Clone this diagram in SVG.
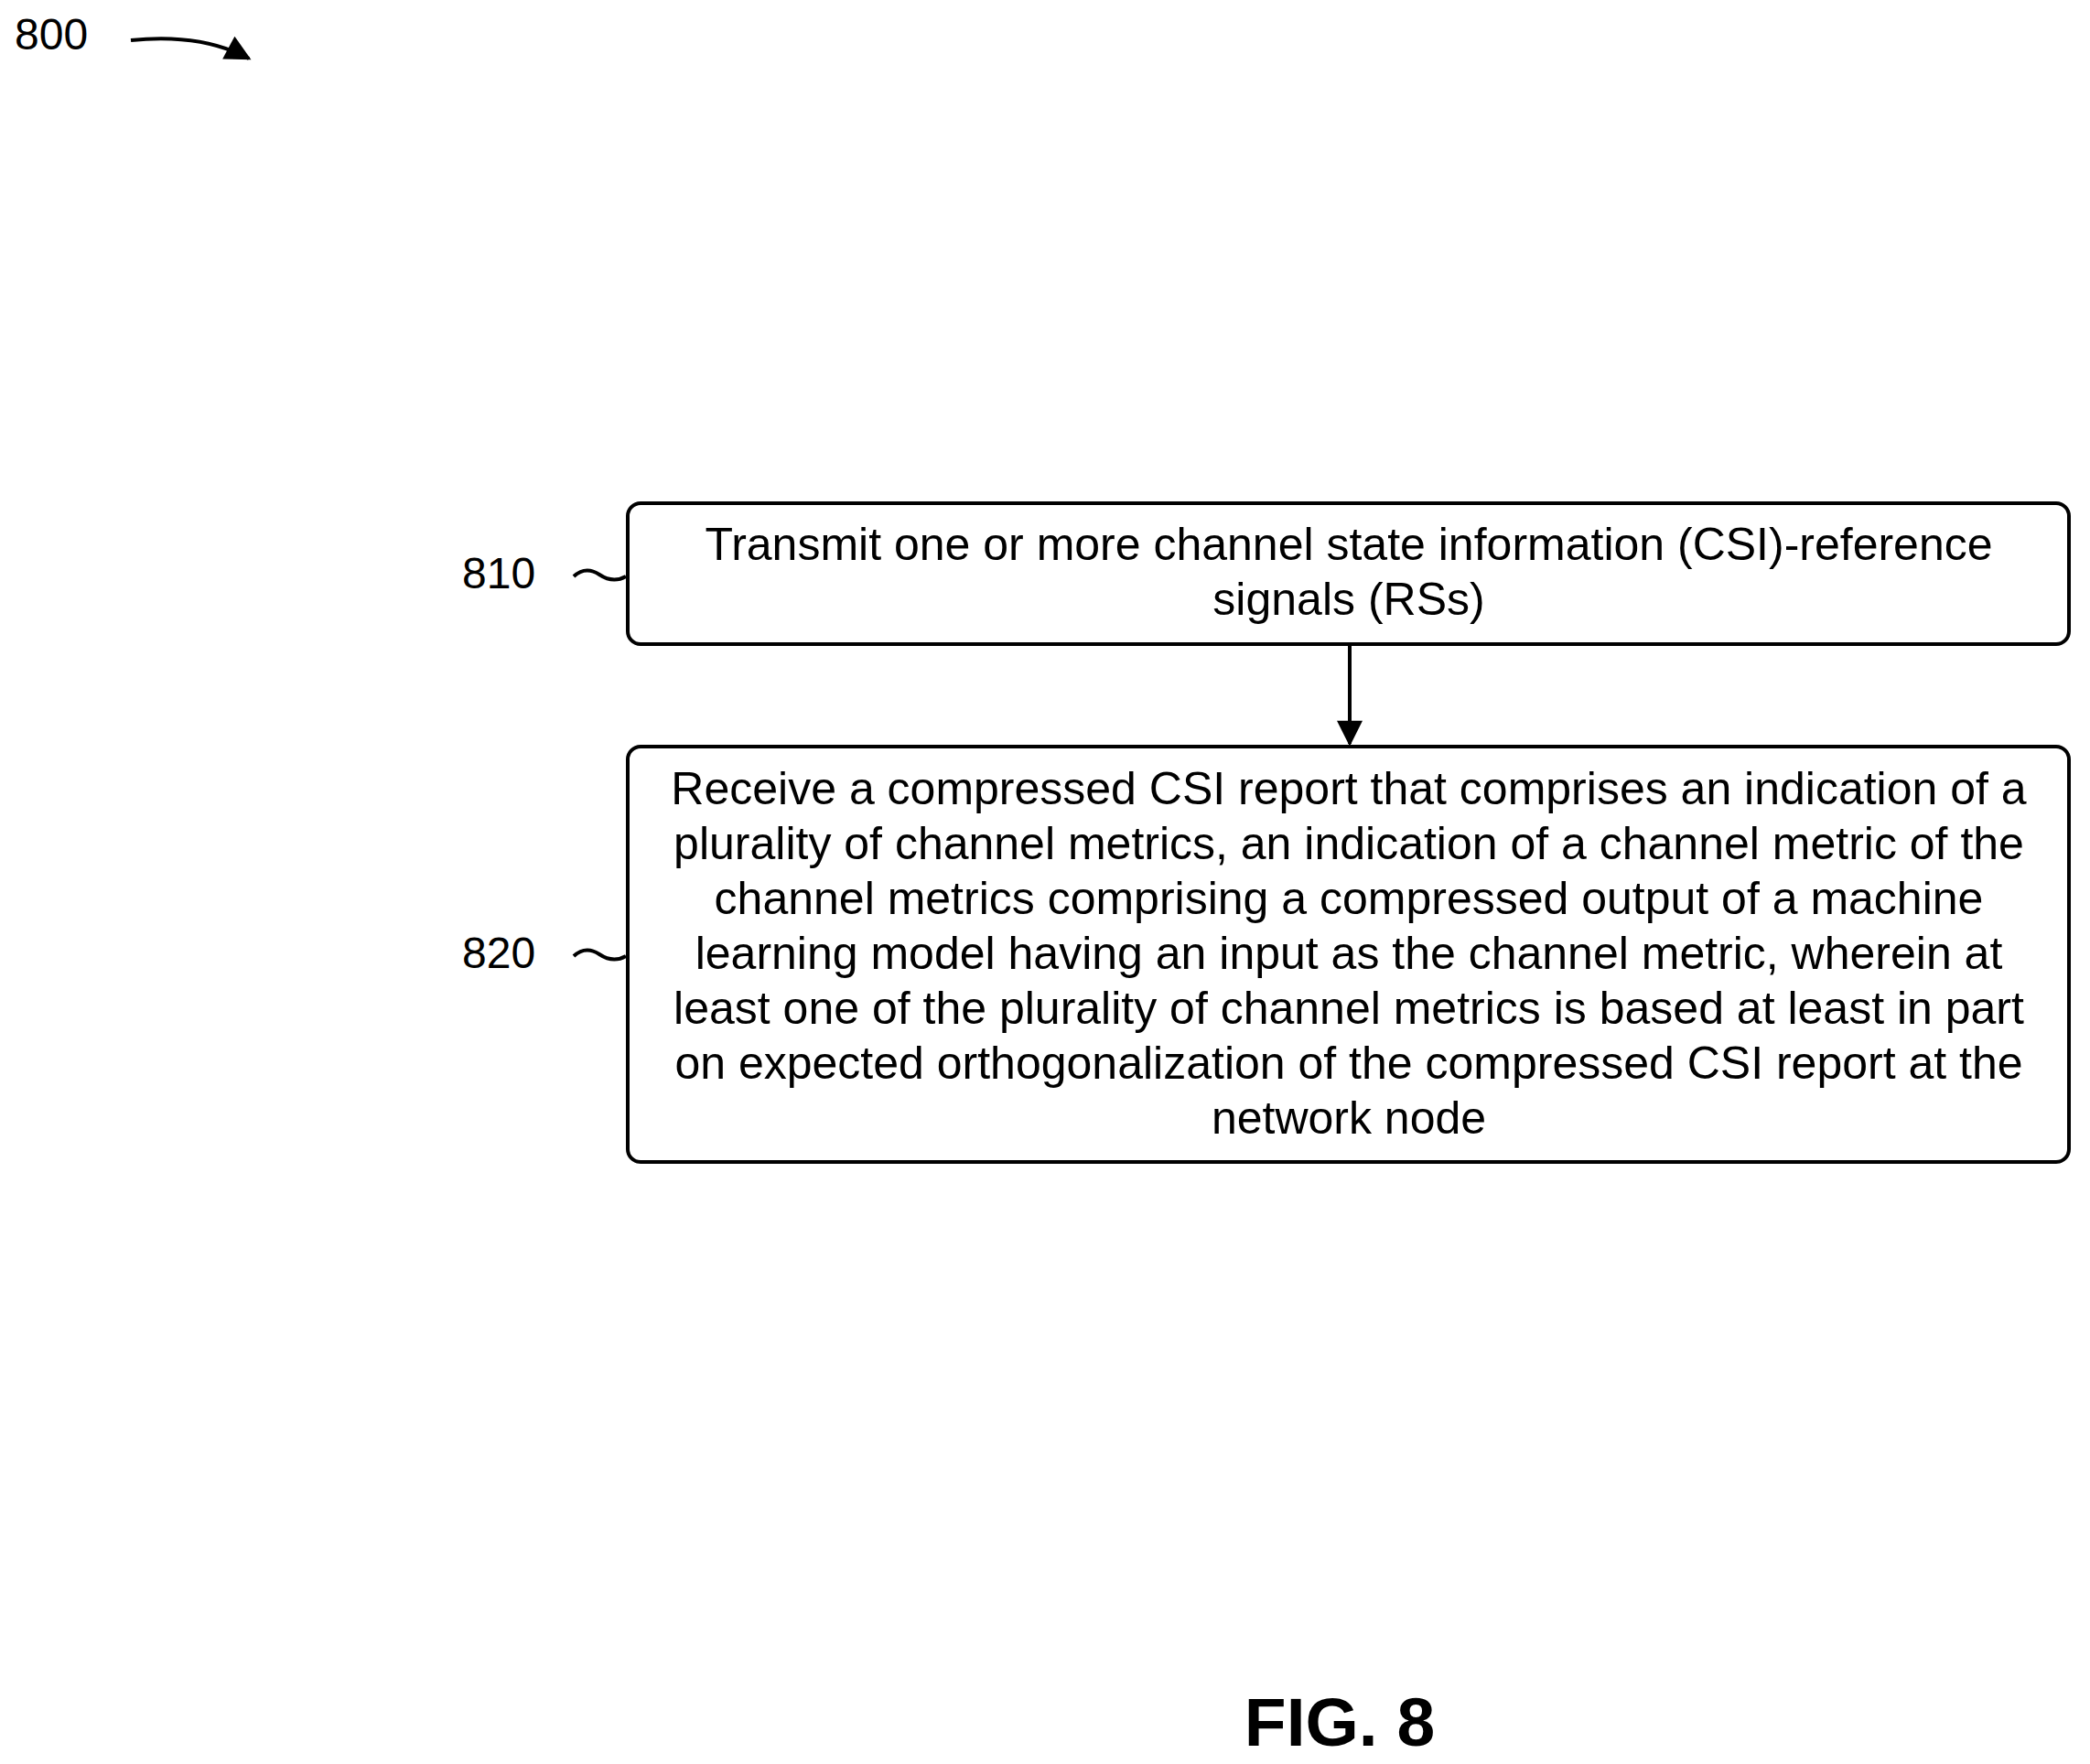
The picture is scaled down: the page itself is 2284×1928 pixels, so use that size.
<svg xmlns="http://www.w3.org/2000/svg" width="2284" height="1928" viewBox="0 0 2284 1928">
<style>
text{font-family:"Liberation Sans",Arial,sans-serif;font-size:50px;fill:#000}
.box{fill:#fff;stroke:#000;stroke-width:4}
.c{text-anchor:middle}
.ln{fill:none;stroke:#000;stroke-width:4}
</style>
<defs>
<marker id="ah2" viewBox="0 0 10 10" refX="9" refY="5" markerWidth="32" markerHeight="28" markerUnits="userSpaceOnUse" orient="auto"><path d="M0,0 L10,5 L0,10 z" fill="#000"/></marker>
</defs>
<rect width="2284" height="1928" fill="#fff"/>
<g id="label800">
<text x="16" y="54" style="font-size:48px">800</text>
<path class="ln" d="M143,44 Q220,36 272,64" marker-end="url(#ah2)"/>
</g>
<g id="node810">
<rect class="box" x="686" y="550" width="1575" height="154" rx="14"/>
<text class="c" x="1474" y="612">Transmit one or more channel state information (CSI)-reference</text>
<text class="c" x="1474" y="672">signals (RSs)</text>
<text x="505" y="643" style="font-size:48px">810</text>
<path class="ln" d="M627,630 Q640,618 655,628 T684,630"/>
</g>
<g id="node820">
<rect class="box" x="686" y="816" width="1575" height="454" rx="14"/>
<text class="c" x="1474" y="879">Receive a compressed CSI report that comprises an indication of a</text>
<text class="c" x="1474" y="939">plurality of channel metrics, an indication of a channel metric of the</text>
<text class="c" x="1474" y="999">channel metrics comprising a compressed output of a machine</text>
<text class="c" x="1474" y="1059">learning model having an input as the channel metric, wherein at</text>
<text class="c" x="1474" y="1119">least one of the plurality of channel metrics is based at least in part</text>
<text class="c" x="1474" y="1179">on expected orthogonalization of the compressed CSI report at the</text>
<text class="c" x="1474" y="1239">network node</text>
<text x="505" y="1058" style="font-size:48px">820</text>
<path class="ln" d="M627,1045 Q640,1033 655,1043 T684,1045"/>
</g>
<g id="connectors">
<path class="ln" d="M1475,704 L1475,813" marker-end="url(#ah2)"/>
</g>
<text class="c" x="1464" y="1908" style="font-weight:bold;font-size:75px">FIG. 8</text>
</svg>
